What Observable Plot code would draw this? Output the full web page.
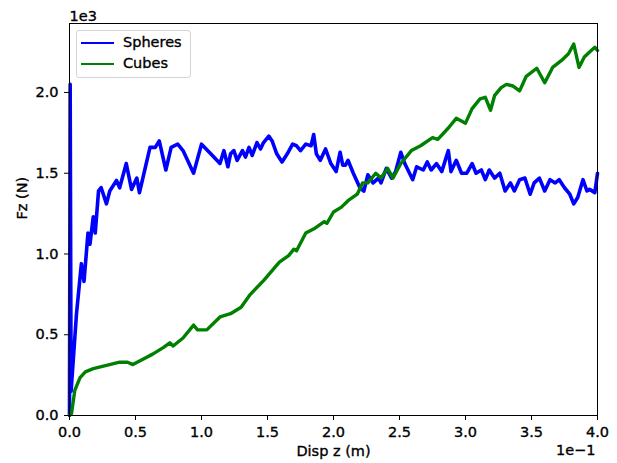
<!DOCTYPE html>
<html>
<head>
<meta charset="utf-8">
<script src="https://cdn.jsdelivr.net/npm/d3@7"></script>
<script src="https://cdn.jsdelivr.net/npm/@observablehq/plot@0.6"></script>
<style>
  html, body { margin: 0; padding: 0; background: white; }
  #wrap { position: relative; width: 617px; height: 463px; font-family: "DejaVu Sans", sans-serif; }
  #wrap svg text { stroke: black; stroke-width: 0.35px; }
  #legend { position: absolute; left: 76px; top: 30px; width: 113px; height: 46px;
    border: 1px solid #d4d4d4; border-radius: 3px; background: rgba(255,255,255,0.8);
    font-size: 14.5px; color: black; -webkit-text-stroke: 0.35px black; }
  .row { position: absolute; left: 0; height: 20px; }
  .sw { position: absolute; left: 4px; width: 33px; height: 0; border-top-width: 2.8px; border-top-style: solid; }
  .lab { position: absolute; left: 46px; white-space: nowrap; line-height: 17px; }
</style>
</head>
<body>
<div id="wrap"></div>
<script>
// x: displacement in units of 1e-1 m ; y: force in units of 1e3 N
const seriesNames = ["Spheres", "Cubes"];
const seriesColors = ["#0000ff", "#008000"];
const xTicks = [0, 0.5, 1.0, 1.5, 2.0, 2.5, 3.0, 3.5, 4.0];
const yTicks = [0, 0.5, 1.0, 1.5, 2.0];

const spheres = [
  [0,0],[0.005,2.05],[0.012,0.15],[0.053,0.63],[0.09,0.94],[0.11,0.83],[0.14,1.13],[0.155,1.06],
  [0.18,1.23],[0.195,1.13],[0.22,1.39],[0.24,1.41],[0.28,1.31],[0.305,1.39],[0.356,1.455],[0.38,1.41],
  [0.43,1.56],[0.47,1.40],[0.51,1.47],[0.53,1.38],[0.57,1.52],[0.61,1.66],[0.65,1.66],[0.68,1.70],
  [0.73,1.52],[0.77,1.66],[0.82,1.68],[0.86,1.64],[0.94,1.50],[1.0,1.68],[1.07,1.62],[1.14,1.56],
  [1.17,1.64],[1.20,1.54],[1.22,1.62],[1.245,1.64],[1.27,1.58],[1.31,1.64],[1.333,1.60],[1.36,1.66],
  [1.384,1.61],[1.42,1.69],[1.447,1.65],[1.47,1.69],[1.51,1.73],[1.535,1.70],[1.57,1.62],[1.61,1.57],
  [1.65,1.62],[1.69,1.68],[1.72,1.67],[1.75,1.64],[1.79,1.68],[1.83,1.67],[1.85,1.74],[1.87,1.62],
  [1.90,1.58],[1.94,1.65],[1.98,1.56],[2.02,1.51],[2.05,1.63],[2.07,1.55],[2.09,1.55],[2.11,1.58],
  [2.15,1.50],
  [2.20,1.41],[2.23,1.39],[2.26,1.49],[2.30,1.44],[2.34,1.47],[2.36,1.44],[2.40,1.53],[2.44,1.47],
  [2.47,1.51],[2.51,1.63],[2.54,1.56],[2.60,1.46],[2.63,1.54],[2.68,1.52],[2.71,1.57],[2.74,1.52],
  [2.78,1.56],[2.82,1.51],[2.87,1.64],[2.89,1.51],[2.93,1.58],[2.97,1.50],[3.01,1.50],[3.05,1.56],
  [3.08,1.50],[3.12,1.52],[3.15,1.46],[3.18,1.52],[3.22,1.47],[3.26,1.50],[3.30,1.39],[3.34,1.44],
  [3.37,1.39],[3.41,1.46],[3.45,1.47],[3.49,1.37],[3.52,1.44],[3.56,1.47],[3.60,1.39],[3.64,1.46],
  [3.68,1.44],[3.71,1.46],[3.75,1.41],[3.79,1.37],[3.82,1.31],[3.85,1.35],[3.89,1.46],[3.92,1.39],
  [3.94,1.40],[3.98,1.38],[4.0,1.50]
];

const cubes = [
  [0,0],[0.015,0.01],[0.04,0.155],[0.08,0.235],[0.12,0.27],[0.18,0.29],[0.28,0.31],[0.38,0.33],
  [0.44,0.33],[0.48,0.315],[0.56,0.35],[0.63,0.38],[0.71,0.42],[0.76,0.45],[0.785,0.43],[0.86,0.48],
  [0.94,0.56],[0.97,0.53],[1.04,0.53],[1.14,0.61],[1.22,0.63],[1.30,0.67],[1.37,0.75],[1.47,0.835],
  [1.59,0.95],[1.66,0.99],[1.70,1.03],[1.72,1.02],[1.79,1.13],[1.86,1.16],[1.93,1.20],[1.95,1.19],
  [2.00,1.26],[2.06,1.29],[2.11,1.33],[2.18,1.37],[2.22,1.44],[2.26,1.44],[2.32,1.50],[2.36,1.47],
  [2.41,1.53],[2.45,1.47],[2.51,1.56],[2.59,1.64],[2.66,1.67],[2.75,1.72],[2.79,1.71],[2.87,1.78],
  [2.93,1.84],[3.00,1.81],[3.05,1.90],[3.11,1.96],[3.15,1.97],[3.19,1.89],[3.22,1.98],[3.27,2.03],
  [3.31,2.05],[3.36,2.04],[3.41,2.01],[3.46,2.10],[3.54,2.15],[3.60,2.06],[3.66,2.155],[3.73,2.20],
  [3.78,2.24],[3.82,2.30],[3.86,2.155],[3.90,2.22],[3.94,2.25],[3.98,2.28],[4.0,2.26]
];

const fmt = d => d.toFixed(1);

const chart = Plot.plot({
  width: 617,
  height: 463,
  marginLeft: 69,
  marginRight: 20,
  marginTop: 23,
  marginBottom: 48,
  style: { fontFamily: "DejaVu Sans", fontSize: "14.5px", color: "black", background: "white", overflow: "visible" },
  x: { domain: [0, 4] },
  y: { domain: [0, 2.427] },
  marks: [
    Plot.line(spheres, { x: d => d[0], y: d => d[1], stroke: seriesColors[0], strokeWidth: 3.6, strokeLinejoin: "round" }),
    Plot.line(cubes, { x: d => d[0], y: d => d[1], stroke: seriesColors[1], strokeWidth: 3.4, strokeLinejoin: "round" }),
    Plot.frame({ stroke: "black", strokeWidth: 1 }),
    Plot.axisX({ ticks: xTicks, tickFormat: fmt, tickSize: 5, tickPadding: 6, label: null, fontSize: 14.5 }),
    Plot.axisY({ ticks: yTicks, tickFormat: fmt, tickSize: 5, tickPadding: 6, label: null, fontSize: 14.5 }),
    Plot.text(["Disp z (m)"], { frameAnchor: "bottom", dy: 40, fontSize: 14.5 }),
    Plot.text(["1e\u22121"], { frameAnchor: "bottom-right", textAnchor: "end", dx: -2, dy: 39, fontSize: 14.5 }),
    Plot.text(["1e3"], { frameAnchor: "top-left", textAnchor: "start", dy: -13, fontSize: 14.5 }),
    Plot.text(["Fz (N)"], { frameAnchor: "left", rotate: -90, dx: -47, fontSize: 14.5 })
  ]
});

const wrap = document.getElementById("wrap");
wrap.appendChild(chart);

const legend = document.createElement("div");
legend.id = "legend";
seriesNames.forEach((name, i) => {
  const row = document.createElement("div");
  row.className = "row";
  row.style.top = (2 + i * 21) + "px";
  row.style.width = "100%";
  const sw = document.createElement("div");
  sw.className = "sw";
  sw.style.borderTopColor = seriesColors[i];
  sw.style.top = "9px";
  const lab = document.createElement("div");
  lab.className = "lab";
  lab.style.top = "1px";
  lab.textContent = name;
  row.appendChild(sw);
  row.appendChild(lab);
  legend.appendChild(row);
});
wrap.appendChild(legend);
</script>
</body>
</html>
